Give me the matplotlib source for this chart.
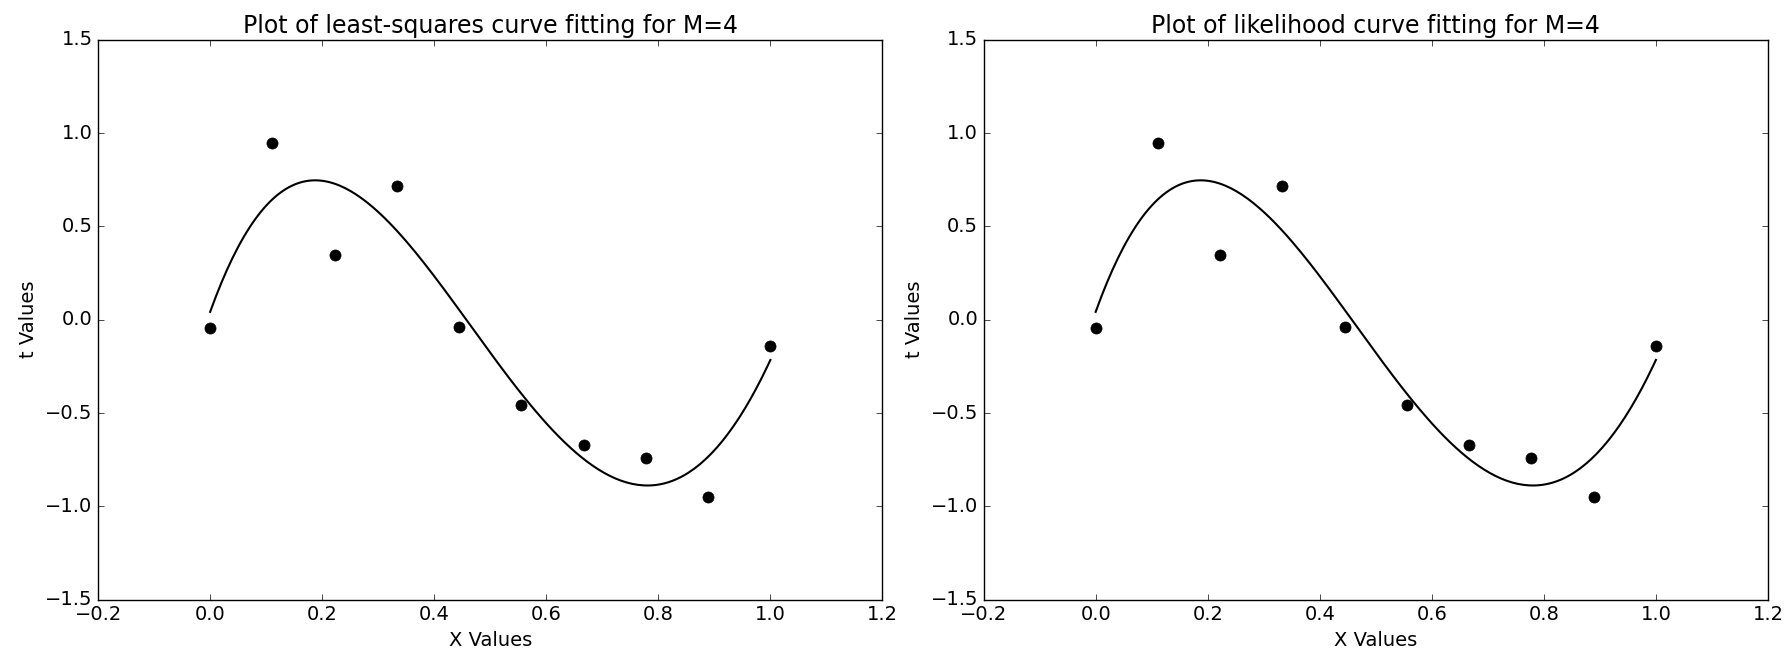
import matplotlib
matplotlib.use("Agg")
import matplotlib.pyplot as plt
import numpy as np

plt.style.use("classic")

# data
x_values = np.linspace(0, 1, 10)
t_values = [-0.043, 0.945, 0.348, 0.715, -0.039, -0.458, -0.672, -0.738, -0.949, -0.143]
poly_degree = 4

titles = ["Plot of least-squares curve fitting for M=4",
          "Plot of likelihood curve fitting for M=4"]

def fit_curve(x, t, deg):
    """ Polynomial fit of the points, evaluated on a fine grid. """
    coefs = np.polyfit(x, t, deg)
    xs = np.linspace(0, 1, 200)
    return xs, np.polyval(coefs, xs)

fig, axes = plt.subplots(nrows=1, ncols=2, figsize=(17.84, 6.62), dpi=100)
fig.patch.set_facecolor("white")

for ax, title in zip(axes, titles):
    xs, ys = fit_curve(x_values, t_values, poly_degree)
    ax.plot(xs, ys, color="black", linewidth=1.5)
    ax.plot(x_values, t_values, "o", color="black", markersize=8)

    ax.set_xlim(-0.2, 1.2)
    ax.set_ylim(-1.5, 1.5)
    ax.set_title(title, fontsize=17)
    ax.set_xlabel("X Values", fontsize=14)
    ax.set_ylabel("t Values", fontsize=14)
    ax.tick_params(labelsize=14)

plt.subplots_adjust(left=0.055, right=0.991, bottom=0.094, top=0.94, wspace=0.129)
plt.savefig("out.png", dpi=100, facecolor="white")
